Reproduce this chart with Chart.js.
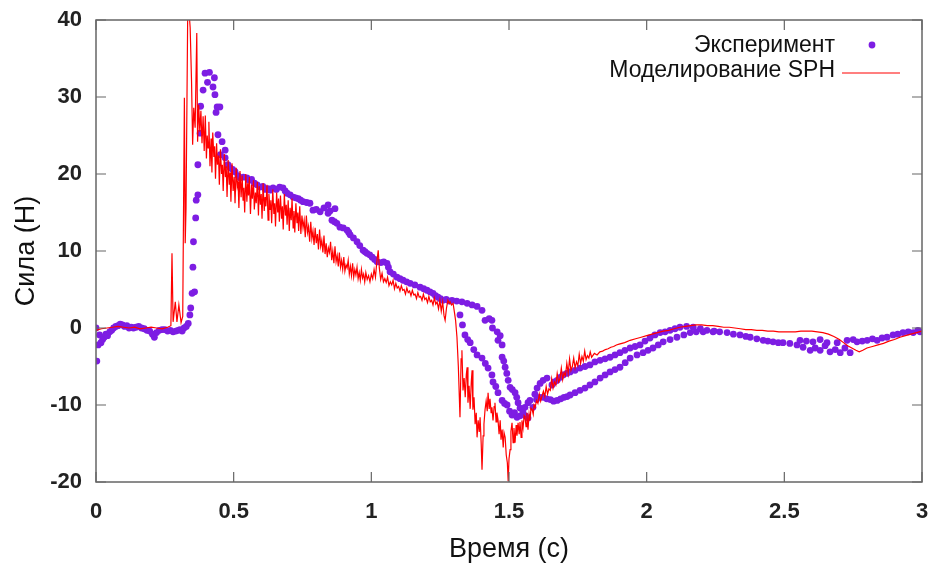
<!DOCTYPE html>
<html>
<head>
<meta charset="utf-8">
<script src="https://cdn.jsdelivr.net/npm/chart.js@4.4.1/dist/chart.umd.min.js"></script>
<style>
  html, body { margin: 0; padding: 0; background: #fff; }
  #wrap { width: 935px; height: 566px; }
</style>
</head>
<body>
<div id="wrap"><canvas id="forceChart" width="935" height="566"></canvas></div>
<script>
// axis ticks
const xTicks = [0, 0.5, 1, 1.5, 2, 2.5, 3];
const yTicks = [-20, -10, 0, 10, 20, 30, 40];

const seriesNames = ["Эксперимент", "Моделирование SPH"];

// experiment: [time s, force N]
const experiment = [
  [0.000, 0.0], [0.003, -4.3], [0.008, -2.2], [0.013, -0.9], [0.018, -1.9], [0.024, -1.5],
  [0.030, -1.2], [0.036, -0.8], [0.042, -1.0], [0.050, -0.5], [0.057, -0.3], [0.064, 0.0],
  [0.072, 0.2], [0.080, 0.3], [0.088, 0.5], [0.096, 0.4], [0.104, 0.2], [0.112, 0.3],
  [0.120, 0.0], [0.128, 0.1], [0.136, 0.0], [0.145, 0.1], [0.155, 0.2], [0.165, 0.0],
  [0.175, -0.1], [0.185, -0.3], [0.195, -0.4], [0.205, -0.8], [0.212, -1.2], [0.220, -0.6],
  [0.230, -0.3], [0.240, -0.2], [0.250, -0.2], [0.260, -0.4], [0.270, -0.3], [0.280, -0.5],
  [0.290, -0.4], [0.298, -0.3], [0.305, -0.2], [0.313, -0.4], [0.320, 0.0], [0.328, 0.2],
  [0.335, 0.6], [0.341, 1.7], [0.344, 2.6], [0.349, 4.5], [0.358, 4.7], [0.352, 7.9],
  [0.354, 11.2], [0.362, 14.3], [0.364, 16.6], [0.370, 17.3], [0.370, 21.2], [0.378, 25.3],
  [0.380, 28.8], [0.389, 30.9], [0.396, 33.1], [0.412, 33.2], [0.405, 31.9], [0.425, 31.3],
  [0.430, 32.5], [0.432, 30.3], [0.440, 28.7], [0.450, 28.7], [0.436, 28.0], [0.443, 25.1],
  [0.458, 24.2], [0.452, 22.5], [0.469, 23.1], [0.469, 22.1], [0.479, 21.2], [0.487, 20.8],
  [0.496, 20.6], [0.505, 20.3], [0.515, 19.8], [0.523, 19.5], [0.535, 19.6], [0.548, 19.5],
  [0.556, 19.2], [0.565, 19.3], [0.575, 18.8], [0.585, 18.6], [0.596, 18.3], [0.606, 18.4],
  [0.615, 18.0], [0.625, 18.1], [0.632, 17.9], [0.643, 18.2], [0.655, 18.0], [0.667, 18.3],
  [0.679, 18.2], [0.687, 17.8], [0.694, 17.5], [0.705, 17.3], [0.716, 17.0], [0.725, 16.9],
  [0.735, 16.8], [0.743, 16.6], [0.752, 16.4], [0.765, 16.3], [0.777, 16.2], [0.788, 15.3],
  [0.800, 15.4], [0.814, 15.1], [0.828, 15.6], [0.843, 16.0], [0.850, 15.2], [0.868, 15.5],
  [0.843, 14.9], [0.857, 14.0], [0.866, 13.8], [0.875, 13.6], [0.886, 13.1], [0.898, 13.0],
  [0.912, 12.7], [0.918, 12.4], [0.923, 12.1], [0.935, 11.7], [0.948, 11.2], [0.958, 10.7],
  [0.970, 10.1], [0.977, 9.9], [0.984, 9.7], [0.994, 9.5], [1.003, 9.2], [1.012, 8.9],
  [1.021, 8.6], [1.035, 8.5], [1.045, 8.6], [1.057, 8.4], [1.062, 7.9], [1.068, 7.3],
  [1.080, 7.0], [1.093, 6.6], [1.104, 6.4], [1.115, 6.2], [1.128, 6.0], [1.141, 5.8],
  [1.158, 5.6], [1.177, 5.3], [1.190, 5.1], [1.202, 4.9], [1.213, 4.7], [1.224, 4.5],
  [1.233, 4.2], [1.242, 4.0], [1.251, 3.8], [1.260, 3.6], [1.272, 3.7], [1.283, 3.5],
  [1.293, 3.6], [1.310, 3.5], [1.329, 3.4],
  [1.348, 3.2], [1.366, 3.0], [1.384, 2.8], [1.402, 2.3], [1.413, 1.0], [1.428, 1.2],
  [1.438, 1.0], [1.440, 0.0], [1.457, -0.5], [1.460, -1.6], [1.468, -1.0], [1.475, -2.2],
  [1.475, -3.8], [1.481, -4.3], [1.486, -5.1], [1.492, -5.9], [1.497, -6.8], [1.504, -7.7],
  [1.512, -8.0], [1.522, -8.4], [1.528, -9.0], [1.533, -9.7], [1.540, -10.4], [1.549, -10.6],
  [1.558, -10.3], [1.569, -9.7], [1.576, -9.4], [1.587, -10.3],
  [1.322, 1.7], [1.331, 0.4], [1.340, -0.9], [1.350, -1.5], [1.359, -1.9], [1.372, -2.8],
  [1.384, -3.5], [1.402, -3.9], [1.414, -4.6], [1.424, -5.2], [1.438, -6.1], [1.442, -7.0],
  [1.452, -7.6], [1.460, -8.4], [1.475, -9.4], [1.484, -9.8], [1.493, -10.0], [1.502, -10.8],
  [1.511, -11.3], [1.520, -11.0], [1.529, -11.6], [1.540, -11.4], [1.551, -11.0], [1.560, -11.4],
  [1.569, -11.7],
  [1.594, -8.6], [1.602, -7.8], [1.613, -7.2], [1.624, -6.8], [1.638, -6.5], [1.656, -7.4],
  [1.665, -7.0], [1.675, -6.8], [1.686, -6.4], [1.696, -6.1], [1.710, -5.9], [1.722, -5.7],
  [1.740, -5.5], [1.758, -5.2], [1.776, -5.0], [1.794, -4.8], [1.812, -4.4], [1.831, -4.2],
  [1.849, -4.0], [1.867, -3.8], [1.885, -3.5], [1.903, -3.2], [1.921, -2.9], [1.940, -2.6],
  [1.958, -2.4], [1.976, -2.2], [1.994, -1.7], [2.012, -1.3], [2.030, -0.9], [2.049, -0.6],
  [2.067, -0.5], [2.085, -0.3], [2.103, -0.1], [2.121, 0.1], [2.145, 0.2], [2.169, 0.1],
  [2.195, -0.1], [2.219, -0.3], [2.245, -0.4],
  [1.600, -9.3], [1.612, -9.0], [1.624, -9.0], [1.637, -9.2], [1.650, -9.3], [1.662, -9.5],
  [1.675, -9.4], [1.688, -9.2], [1.700, -9.0], [1.711, -8.9], [1.722, -8.7], [1.740, -8.4],
  [1.758, -8.1], [1.776, -7.8], [1.794, -7.4], [1.812, -7.0], [1.831, -6.5], [1.849, -6.1],
  [1.867, -5.7], [1.885, -5.4], [1.903, -5.1], [1.922, -4.5], [1.940, -3.9], [1.965, -3.5],
  [1.987, -3.2], [2.005, -2.9], [2.023, -2.6], [2.042, -2.2], [2.060, -1.8], [2.085, -1.5],
  [2.110, -1.2], [2.135, -0.9], [2.158, -0.6], [2.180, -0.5], [2.205, -0.5], [2.241, -0.5],
  [2.265, -0.5], [2.292, -0.6], [2.315, -0.8], [2.339, -0.9], [2.360, -1.1], [2.376, -1.2],
  [2.400, -1.4], [2.423, -1.6], [2.440, -1.7], [2.459, -1.8], [2.478, -1.9], [2.495, -1.9],
  [2.520, -2.0], [2.546, -2.2], [2.568, -2.5], [2.594, -2.9], [2.612, -2.6], [2.630, -2.9],
  [2.648, -2.3], [2.666, -3.1], [2.685, -2.8], [2.703, -3.2], [2.720, -2.6], [2.739, -3.2],
  [2.764, -1.8], [2.783, -1.7], [2.801, -1.6], [2.820, -1.4], [2.837, -1.6], [2.855, -1.3],
  [2.873, -1.2], [2.895, -0.9], [2.912, -0.8], [2.931, -0.6], [2.950, -0.5], [2.968, -0.6],
  [2.985, -0.3], [2.993, -0.5],
  [2.557, -1.6], [2.580, -1.7], [2.604, -1.8], [2.630, -1.5], [2.655, -1.9], [2.692, -1.9],
  [2.728, -1.6], [2.750, -1.5]
];

// SPH simulation: [time s, force N]
const sph = [
  [0.000, -0.3], [0.020, -0.1], [0.040, 0.0], [0.060, 0.1], [0.080, 0.2], [0.100, 0.1],
  [0.120, 0.0], [0.140, 0.1], [0.160, -0.1], [0.180, 0.0], [0.200, 0.1], [0.220, 0.0],
  [0.240, -0.1], [0.260, 0.1], [0.272, 0.3], [0.276, 9.7], [0.280, 0.8], [0.288, 3.4],
  [0.294, 0.8], [0.301, 3.0], [0.309, 0.7], [0.315, 1.5], [0.321, 29.9], [0.324, 11.0],
  [0.327, 15.6], [0.333, 40.5], [0.338, 41.0], [0.342, 39.0], [0.347, 32.0], [0.351, 23.8],
  [0.355, 28.6], [0.360, 26.0], [0.366, 38.3], [0.369, 24.2], [0.373, 29.0], [0.377, 25.5],
  [0.381, 28.2], [0.385, 24.0], [0.389, 27.5], [0.393, 23.0], [0.397, 27.6], [0.401, 22.0],
  [0.404, 25.0], [0.407, 23.4], [0.410, 26.8], [0.414, 21.0], [0.418, 24.6], [0.421, 20.2],
  [0.424, 25.4], [0.428, 22.2], [0.431, 23.6], [0.434, 19.4], [0.438, 24.0], [0.441, 21.2],
  [0.445, 22.4], [0.448, 18.6], [0.452, 23.2], [0.456, 20.0], [0.459, 21.2], [0.462, 17.8],
  [0.466, 22.6], [0.470, 19.6], [0.473, 21.0], [0.476, 17.0], [0.480, 21.8], [0.484, 18.6],
  [0.487, 20.2], [0.490, 16.4], [0.494, 21.4], [0.498, 17.8], [0.502, 19.6], [0.505, 16.2],
  [0.509, 20.8], [0.513, 18.4], [0.516, 19.0], [0.519, 15.6], [0.523, 20.4], [0.527, 17.0],
  [0.531, 19.8], [0.534, 16.6], [0.537, 18.2], [0.540, 15.0], [0.544, 20.0], [0.548, 16.4],
  [0.551, 18.8], [0.554, 17.2], [0.557, 19.6], [0.561, 14.8], [0.565, 18.6], [0.568, 16.8],
  [0.572, 19.2], [0.575, 15.4], [0.579, 17.6], [0.582, 16.2], [0.586, 19.0], [0.590, 14.6],
  [0.593, 18.4], [0.597, 16.0], [0.600, 17.4], [0.603, 14.2], [0.607, 18.8], [0.611, 15.2],
  [0.614, 17.0], [0.617, 15.8], [0.621, 18.6], [0.625, 14.0], [0.628, 17.4], [0.632, 15.4],
  [0.635, 16.6], [0.638, 13.6], [0.642, 18.0], [0.646, 14.8], [0.649, 16.2], [0.652, 13.2],
  [0.656, 17.6], [0.660, 15.0], [0.663, 16.8], [0.666, 13.8], [0.670, 17.2], [0.674, 14.2],
  [0.677, 15.8], [0.680, 12.8], [0.684, 17.4], [0.688, 14.6], [0.691, 16.0], [0.694, 13.4],
  [0.698, 16.6], [0.702, 12.6], [0.705, 15.6], [0.709, 14.0], [0.712, 16.8], [0.716, 13.0],
  [0.719, 15.2], [0.722, 12.4], [0.726, 16.2], [0.730, 13.6], [0.733, 15.0], [0.736, 12.6],
  [0.740, 15.8], [0.744, 12.2], [0.748, 14.6], [0.752, 13.0], [0.756, 14.0], [0.760, 11.8],
  [0.764, 14.6], [0.768, 12.4], [0.772, 13.2], [0.776, 11.2], [0.780, 13.8], [0.784, 11.6],
  [0.788, 12.6], [0.792, 10.8], [0.796, 13.0], [0.800, 11.0], [0.804, 12.2], [0.808, 10.2],
  [0.812, 12.8], [0.816, 10.6], [0.820, 11.4], [0.824, 9.8], [0.828, 12.0], [0.832, 9.6],
  [0.836, 11.0], [0.840, 9.2], [0.844, 10.4], [0.848, 9.8], [0.852, 11.2], [0.856, 8.8],
  [0.860, 10.0], [0.864, 8.4], [0.868, 10.6], [0.872, 8.6], [0.876, 9.4], [0.880, 8.0],
  [0.884, 9.8], [0.888, 7.9], [0.892, 8.8], [0.896, 7.6], [0.900, 9.2], [0.904, 7.4],
  [0.908, 8.2], [0.912, 7.8], [0.916, 8.8], [0.920, 7.0], [0.924, 8.0], [0.928, 6.8],
  [0.932, 8.4], [0.936, 6.6], [0.940, 7.6], [0.944, 6.9], [0.948, 7.9], [0.952, 6.4],
  [0.956, 7.2], [0.960, 6.2], [0.964, 7.6], [0.968, 6.5], [0.972, 7.0], [0.976, 6.0],
  [0.980, 7.2], [0.985, 6.3], [0.990, 6.8], [0.995, 6.0], [1.000, 7.0], [1.005, 6.4],
  [1.010, 7.6], [1.015, 6.6], [1.020, 8.6], [1.025, 10.1], [1.029, 7.8], [1.034, 6.3],
  [1.039, 7.1], [1.044, 6.0], [1.049, 6.4], [1.054, 5.9], [1.059, 6.6], [1.064, 5.5],
  [1.069, 6.0], [1.074, 5.6], [1.079, 6.2], [1.084, 5.1], [1.089, 5.8], [1.094, 5.2],
  [1.099, 5.4], [1.104, 4.8], [1.109, 5.5], [1.114, 4.9], [1.119, 5.0], [1.124, 4.4],
  [1.129, 5.2], [1.134, 4.6], [1.139, 4.8], [1.144, 4.2], [1.149, 4.9], [1.154, 4.3],
  [1.159, 4.4], [1.164, 3.8], [1.169, 4.6], [1.174, 4.0], [1.179, 4.1], [1.184, 3.6],
  [1.189, 4.4], [1.194, 3.7], [1.199, 3.9], [1.204, 3.3], [1.209, 4.1], [1.214, 3.4],
  [1.219, 3.6], [1.224, 3.0], [1.229, 3.9], [1.234, 3.1], [1.239, 3.4], [1.244, 2.5],
  [1.249, 3.6], [1.254, 2.2], [1.259, 3.4], [1.264, 1.6], [1.268, 1.0], [1.273, 2.6],
  [1.278, 3.6], [1.283, 3.2], [1.286, 3.4], [1.291, 3.0], [1.297, 3.2], [1.302, 2.0],
  [1.306, 1.0], [1.311, -1.2], [1.316, -5.0], [1.322, -11.6], [1.326, -4.0], [1.329, -2.9],
  [1.333, -8.1], [1.337, -6.5], [1.341, -9.0], [1.345, -6.0], [1.348, -5.1], [1.351, -9.7],
  [1.355, -7.5], [1.359, -10.5], [1.363, -7.0], [1.366, -5.5], [1.369, -10.6], [1.373, -9.0],
  [1.377, -12.5], [1.381, -11.0], [1.384, -14.2], [1.388, -12.0], [1.392, -13.5], [1.395, -11.6],
  [1.399, -15.0], [1.402, -18.4], [1.406, -14.0], [1.409, -12.5], [1.413, -10.6], [1.417, -9.5],
  [1.421, -10.8], [1.424, -8.4], [1.428, -10.5], [1.431, -9.2], [1.435, -11.0], [1.438, -10.3],
  [1.442, -12.0], [1.446, -10.2], [1.449, -9.7], [1.453, -12.2], [1.456, -11.0], [1.460, -11.9],
  [1.464, -13.8], [1.468, -12.0], [1.471, -14.5], [1.475, -13.2], [1.479, -15.5], [1.482, -13.6],
  [1.486, -14.2], [1.490, -16.5], [1.494, -17.5], [1.497, -19.9], [1.500, -17.0], [1.504, -15.8],
  [1.507, -13.4], [1.511, -12.3], [1.515, -14.9], [1.518, -13.0], [1.522, -14.9], [1.526, -12.6],
  [1.529, -14.0], [1.533, -12.3], [1.537, -13.8], [1.540, -12.2], [1.544, -14.2], [1.547, -12.0],
  [1.551, -13.0], [1.555, -11.4], [1.558, -11.6], [1.562, -12.8], [1.565, -11.0], [1.569, -13.2],
  [1.573, -11.2], [1.576, -12.0], [1.580, -10.4], [1.584, -10.6], [1.588, -11.2], [1.591, -10.0],
  [1.595, -10.3], [1.600, -9.4], [1.605, -9.8], [1.610, -8.6], [1.615, -9.5], [1.620, -8.8],
  [1.625, -8.2], [1.630, -8.9], [1.635, -7.6], [1.640, -8.6], [1.645, -7.9], [1.650, -8.1],
  [1.655, -6.6], [1.660, -7.8], [1.665, -7.0], [1.670, -7.4], [1.675, -5.9], [1.680, -7.0],
  [1.685, -6.6], [1.690, -5.2], [1.695, -6.7], [1.700, -5.8], [1.705, -6.2], [1.710, -4.6],
  [1.715, -5.9], [1.720, -4.0], [1.725, -5.5], [1.730, -5.0], [1.735, -3.9], [1.740, -5.2],
  [1.745, -4.4], [1.750, -4.9], [1.755, -3.4], [1.760, -4.6], [1.765, -3.7], [1.770, -4.3],
  [1.775, -3.0], [1.780, -4.1], [1.785, -3.6], [1.790, -3.9], [1.795, -3.1], [1.800, -3.8],
  [1.810, -3.3], [1.820, -3.5], [1.830, -3.1], [1.840, -3.0], [1.850, -2.8], [1.860, -2.7],
  [1.870, -2.5], [1.880, -2.4], [1.890, -2.2], [1.900, -2.1], [1.920, -1.9], [1.940, -1.6],
  [1.960, -1.4], [1.980, -1.2], [2.000, -1.0], [2.020, -0.8], [2.040, -0.6], [2.060, -0.4],
  [2.080, -0.3], [2.100, -0.1], [2.120, 0.1], [2.140, 0.2], [2.160, 0.3], [2.180, 0.4],
  [2.200, 0.4], [2.220, 0.3], [2.240, 0.3], [2.260, 0.2], [2.280, 0.1], [2.300, 0.1],
  [2.320, 0.0], [2.340, -0.1], [2.360, -0.2], [2.380, -0.2], [2.400, -0.3], [2.420, -0.3],
  [2.440, -0.4], [2.460, -0.4], [2.480, -0.5], [2.500, -0.5], [2.520, -0.5], [2.540, -0.5],
  [2.560, -0.4], [2.580, -0.4], [2.600, -0.4], [2.620, -0.5], [2.640, -0.6], [2.660, -0.8],
  [2.680, -1.1], [2.700, -1.5], [2.715, -1.9], [2.730, -2.3], [2.745, -2.6], [2.760, -2.9],
  [2.772, -3.1], [2.785, -2.9], [2.800, -2.6], [2.820, -2.4], [2.840, -2.2], [2.860, -2.0],
  [2.880, -1.7], [2.900, -1.5], [2.920, -1.2], [2.940, -1.0], [2.960, -0.8], [2.980, -0.6],
  [3.000, -0.4]
];

const expColor = "#7d1de3";
const sphColor = "#ff0000";
const textFont = "'Liberation Sans', Arial, sans-serif";

// gnuplot-like frame with inward ticks and legend at top right
const framePlugin = {
  id: "frame",
  afterDatasetsDraw(chart) {
    const { ctx, chartArea: a, scales } = chart;
    ctx.save();
    ctx.strokeStyle = "#666";
    ctx.lineWidth = 1.5;
    ctx.strokeRect(a.left, a.top, a.right - a.left, a.bottom - a.top);
    ctx.lineWidth = 1.2;
    ctx.beginPath();
    scales.x.ticks.forEach(t => {
      const px = scales.x.getPixelForValue(t.value);
      ctx.moveTo(px, a.bottom); ctx.lineTo(px, a.bottom - 10);
      ctx.moveTo(px, a.top); ctx.lineTo(px, a.top + 10);
    });
    scales.y.ticks.forEach(t => {
      const py = scales.y.getPixelForValue(t.value);
      ctx.moveTo(a.left, py); ctx.lineTo(a.left + 10, py);
      ctx.moveTo(a.right, py); ctx.lineTo(a.right - 10, py);
    });
    ctx.stroke();

    // legend
    ctx.font = "23px " + textFont;
    ctx.fillStyle = "#111";
    ctx.textAlign = "right";
    ctx.textBaseline = "middle";
    ctx.fillText(seriesNames[0], 835, 46);
    ctx.fillText(seriesNames[1], 835, 71);
    ctx.fillStyle = expColor;
    ctx.beginPath();
    ctx.arc(872, 45, 3.4, 0, Math.PI * 2);
    ctx.fill();
    ctx.strokeStyle = sphColor;
    ctx.lineWidth = 1.2;
    ctx.beginPath();
    ctx.moveTo(842, 73); ctx.lineTo(900, 73);
    ctx.stroke();
    ctx.restore();
  }
};

const toPoints = arr => arr.map(p => ({ x: p[0], y: p[1] }));

new Chart(document.getElementById("forceChart"), {
  type: "scatter",
  data: {
    datasets: [
      {
        label: seriesNames[0],
        data: toPoints(experiment),
        pointRadius: 3.4,
        pointBackgroundColor: expColor,
        pointBorderWidth: 0,
        showLine: false,
        order: 2
      },
      {
        label: seriesNames[1],
        data: toPoints(sph),
        showLine: true,
        borderColor: sphColor,
        borderWidth: 1.2,
        pointRadius: 0,
        tension: 0,
        order: 1
      }
    ]
  },
  options: {
    responsive: false,
    animation: false,
    layout: { padding: { left: 0, right: 13, top: 20, bottom: 0 } },
    plugins: {
      legend: { display: false },
      tooltip: { enabled: false }
    },
    scales: {
      x: {
        type: "linear",
        min: 0,
        max: 3,
        afterBuildTicks: s => { s.ticks = xTicks.map(v => ({ value: v })); },
        afterFit: s => { s.height = 84; },
        grid: { display: false, drawTicks: true, tickLength: 17 },
        border: { display: false },
        ticks: {
          padding: 0,
          color: "#222",
          callback: v => String(v),
          font: { family: textFont, size: 22, weight: "bold" }
        },
        title: {
          display: true,
          text: "Время (с)",
          color: "#111",
          padding: { top: 0, bottom: 0 },
          font: { family: textFont, size: 27 }
        }
      },
      y: {
        type: "linear",
        min: -20,
        max: 40,
        afterBuildTicks: s => { s.ticks = yTicks.map(v => ({ value: v })); },
        afterFit: s => { s.width = 96; },
        grid: { display: false, drawTicks: true, tickLength: 14 },
        border: { display: false },
        ticks: {
          padding: 0,
          color: "#222",
          callback: v => String(v),
          font: { family: textFont, size: 22, weight: "bold" }
        },
        title: {
          display: true,
          text: "Сила (Н)",
          color: "#111",
          padding: { top: 10, bottom: 0 },
          font: { family: textFont, size: 27 }
        }
      }
    }
  },
  plugins: [framePlugin]
});
</script>
</body>
</html>
